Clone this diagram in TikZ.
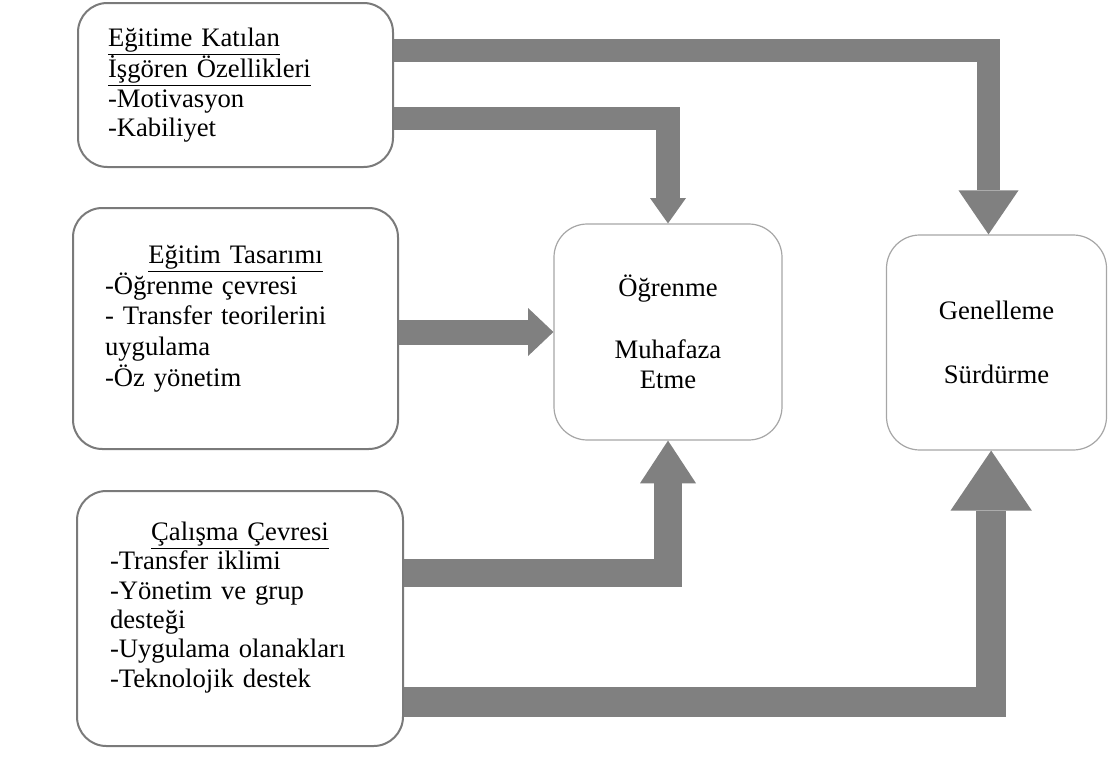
\documentclass[tikz,border=0pt]{standalone}
\usepackage{fontspec}
\setmainfont{Liberation Serif}
\usetikzlibrary{arrows.meta,positioning}

\definecolor{edgegray}{HTML}{7A7A7A}
\definecolor{softgray}{HTML}{A6A6A6}
\definecolor{flowgray}{HTML}{808080}

\tikzset{
  factor/.style={draw=edgegray, line width=1.5pt, rounded corners=22pt,
    inner sep=0pt, align=left, font={\fontsize{20pt}{22pt}\selectfont}},
  outcome/.style={draw=softgray, line width=0.9pt, rounded corners=25pt,
    inner sep=0pt, align=center, font={\fontsize{20pt}{22.5pt}\selectfont}},
  flow/.style={draw=flowgray, line width=#1, line join=miter},
}

\begin{document}
\begin{tikzpicture}[x=0.75pt, y=-0.75pt]
\useasboundingbox (0,0) rectangle (1108,757);

% factors on the left
\node[factor, minimum width=236.25pt, minimum height=123pt, text width=191.25pt] (traits) at (235.5,85)
  {\underline{Eğitime Katılan}\\ \underline{İşgören Özellikleri}\\ -Motivasyon\\ -Kabiliyet};
\node[factor, minimum width=243.75pt, minimum height=180.75pt, text width=195.75pt, text depth=111.3pt,
  font={\fontsize{20pt}{23pt}\selectfont}] (design) at (235.5,328.5)
  {\makebox[195.75pt]{\underline{Eğitim Tasarımı}}\\ -Öğrenme çevresi\\ - Transfer teorilerini\\ uygulama\\ -Öz yönetim};
\node[factor, minimum width=244.5pt, minimum height=191.25pt, text width=195pt, text depth=130.8pt] (work) at (240,618.5)
  {\makebox[195pt]{\underline{Çalışma Çevresi}}\\ -Transfer iklimi\\ -Yönetim ve grup\\ desteği\\ -Uygulama olanakları\\ -Teknolojik destek};

% outcomes
\node[outcome, minimum width=171pt, minimum height=162pt] (learn) at (668,332)
  {Öğrenme\\[24pt] Muhafaza\\ Etme};
\node[outcome, minimum width=165pt, minimum height=161.25pt] (gen) at (996.5,342.5)
  {Genelleme\\[25.5pt] Sürdürme};

% block arrows
\draw[flow=17.25pt, -{Triangle[width=45pt,length=33pt,line width=0pt]}]
  (traits.east |- 0,50.5) -| ([xshift=-6pt]gen.north);
\draw[flow=17.5pt, -{Triangle[width=27pt,length=19pt,line width=0pt]}]
  (traits.east |- 0,118.5) -| (learn.north);
\draw[flow=18.75pt, -{Triangle[width=36pt,length=19pt,line width=0pt]}]
  (design.east |- learn.west) -- (learn.west);
\draw[flow=21pt, -{Triangle[width=42pt,length=32pt,line width=0pt]}]
  (work.east |- 0,573) -| (learn.south);
\draw[flow=22.5pt, -{Triangle[width=61pt,length=45pt,line width=0pt]}]
  (work.east |- 0,702) -| ([xshift=-4pt]gen.south);
\end{tikzpicture}
\end{document}
